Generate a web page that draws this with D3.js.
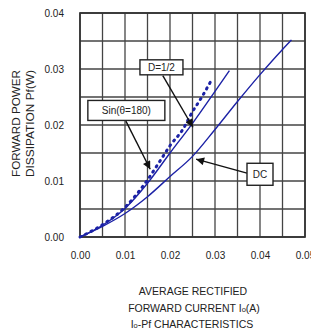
<!DOCTYPE html>
<html>
<head>
<meta charset="utf-8">
<script src="https://cdn.jsdelivr.net/npm/d3@7"></script>
<style>
  body { margin: 0; background: #fff; }
  text { font-family: "Liberation Sans", Arial, sans-serif; fill: #222; }
</style>
</head>
<body>
<div id="chart"></div>
<script>
// Data (current in A, power in W)
const dcI   = [0, 0.005, 0.010, 0.015, 0.020, 0.025, 0.030, 0.035, 0.040, 0.045, 0.047];
const dcP   = [0, 0.0019, 0.0042, 0.0072, 0.0108, 0.0144, 0.0192, 0.0242, 0.0290, 0.0335, 0.0352];
const halfI = [0, 0.005, 0.010, 0.015, 0.020, 0.025, 0.030, 0.0332];
const halfP = [0, 0.0021, 0.0051, 0.0096, 0.0150, 0.0203, 0.0260, 0.0297];
const sinI  = [0, 0.005, 0.010, 0.015, 0.0178, 0.020, 0.023, 0.0248, 0.027, 0.0292];
const sinP  = [0, 0.0022, 0.0053, 0.0102, 0.0136, 0.0163, 0.0194, 0.0221, 0.0249, 0.0280];
const xTicks = [0, 0.01, 0.02, 0.03, 0.04, 0.05];
const yTicks = [0, 0.01, 0.02, 0.03, 0.04];
const gridStep = 0.005;

// Annotation labels: box centre and arrow, all in data units
const notes = [
  {label: "D=1/2",      cx: 0.0181, cy: 0.0303, w: 43, h: 15, from: [0.0184, 0.0288], to: [0.0251, 0.0196]},
  {label: "Sin(θ=180)", cx: 0.0103, cy: 0.0226, w: 77, h: 20, from: [0.0102, 0.0207], to: [0.0156, 0.0121]},
  {label: "DC",         cx: 0.0400, cy: 0.0112, w: 26, h: 22, from: [0.0371, 0.0114], to: [0.0258, 0.0139]}
];

const margin = {top: 13, right: 6, bottom: 92, left: 80};
const width = 311 - margin.left - margin.right;
const height = 329 - margin.top - margin.bottom;
const blue = "#1c22a6";

const svg = d3.select("#chart")
    .append("svg")
    .attr("width", 311)
    .attr("height", 329);

svg.append("defs").append("marker")
    .attr("id", "arrow")
    .attr("viewBox", "0 0 10 10")
    .attr("refX", 10)
    .attr("refY", 5)
    .attr("markerWidth", 10)
    .attr("markerHeight", 8)
    .attr("markerUnits", "userSpaceOnUse")
    .attr("orient", "auto")
    .append("path")
    .attr("d", "M0,0 L10,5 L0,10 Z")
    .attr("fill", "#111");

const g = svg.append("g")
    .attr("transform", `translate(${margin.left},${margin.top})`);

const x = d3.scaleLinear().domain([0, 0.05]).range([0, width]);
const y = d3.scaleLinear().domain([0, 0.04]).range([height, 0]);

// Grid
g.append("g")
    .selectAll("line")
    .data(d3.range(0, 0.05 + 1e-9, gridStep))
    .enter().append("line")
    .attr("x1", d => x(d)).attr("x2", d => x(d))
    .attr("y1", 0).attr("y2", height)
    .attr("stroke", "#444").attr("stroke-width", 1.3);

g.append("g")
    .selectAll("line")
    .data(d3.range(0, 0.04 + 1e-9, gridStep))
    .enter().append("line")
    .attr("x1", 0).attr("x2", width)
    .attr("y1", d => y(d)).attr("y2", d => y(d))
    .attr("stroke", "#444").attr("stroke-width", 1.3);

g.append("rect")
    .attr("width", width).attr("height", height)
    .attr("fill", "none").attr("stroke", "#333").attr("stroke-width", 1.7);

// Axes (labels only)
const xAxis = g.append("g")
    .attr("transform", `translate(0,${height})`)
    .call(d3.axisBottom(x).tickValues(xTicks).tickFormat(d3.format(".2f")).tickSize(0).tickPadding(15));
const yAxis = g.append("g")
    .call(d3.axisLeft(y).tickValues(yTicks).tickFormat(d3.format(".2f")).tickSize(0).tickPadding(16));
[xAxis, yAxis].forEach(a => {
    a.select(".domain").remove();
    a.selectAll("text").style("font-size", "10px").attr("fill", "#333");
});

// Curves
const line = d3.line()
    .x(d => x(d[0]))
    .y(d => y(d[1]))
    .curve(d3.curveMonotoneX);

g.append("path")
    .datum(d3.zip(dcI, dcP))
    .attr("d", line)
    .attr("fill", "none").attr("stroke", blue).attr("stroke-width", 1.4);

g.append("path")
    .datum(d3.zip(halfI, halfP))
    .attr("d", line)
    .attr("fill", "none").attr("stroke", blue).attr("stroke-width", 1.4);

g.append("path")
    .datum(d3.zip(sinI, sinP))
    .attr("d", line)
    .attr("fill", "none").attr("stroke", blue).attr("stroke-width", 3)
    .attr("stroke-linecap", "round")
    .attr("stroke-dasharray", "1.2,5");

// Annotations
notes.forEach(n => {
    g.append("line")
        .attr("x1", x(n.from[0])).attr("y1", y(n.from[1]))
        .attr("x2", x(n.to[0])).attr("y2", y(n.to[1]))
        .attr("stroke", "#111").attr("stroke-width", 1.4)
        .attr("marker-end", "url(#arrow)");
    g.append("rect")
        .attr("x", x(n.cx) - n.w / 2).attr("y", y(n.cy) - n.h / 2)
        .attr("width", n.w).attr("height", n.h)
        .attr("fill", "#fff").attr("stroke", "#222").attr("stroke-width", 1.4);
    g.append("text")
        .attr("x", x(n.cx)).attr("y", y(n.cy) + 3.5)
        .attr("text-anchor", "middle")
        .style("font-size", "10px")
        .text(n.label);
});

// Axis titles
const yTitle = svg.append("g").attr("transform", "translate(0,177) rotate(-90)");
yTitle.append("text").attr("x", 0).attr("y", 20)
    .attr("textLength", 107).attr("lengthAdjust", "spacingAndGlyphs")
    .style("font-size", "10px").text("FORWARD POWER");
yTitle.append("text").attr("x", 0).attr("y", 34)
    .attr("textLength", 107).attr("lengthAdjust", "spacingAndGlyphs")
    .style("font-size", "10px").text("DISSIPATION Pf(W)");

const bottom = svg.append("g").attr("text-anchor", "middle").style("font-size", "10.5px");
bottom.append("text").attr("x", 193).attr("y", 295).text("AVERAGE RECTIFIED");
const t2 = bottom.append("text").attr("x", 194).attr("y", 312);
t2.append("tspan").text("FORWARD CURRENT I");
t2.append("tspan").style("font-size", "7.5px").text("o");
t2.append("tspan").text("(A)");
const t3 = bottom.append("text").attr("x", 192).attr("y", 328);
t3.append("tspan").text("I");
t3.append("tspan").style("font-size", "7.5px").text("o");
t3.append("tspan").text("-Pf CHARACTERISTICS");
</script>
</body>
</html>
